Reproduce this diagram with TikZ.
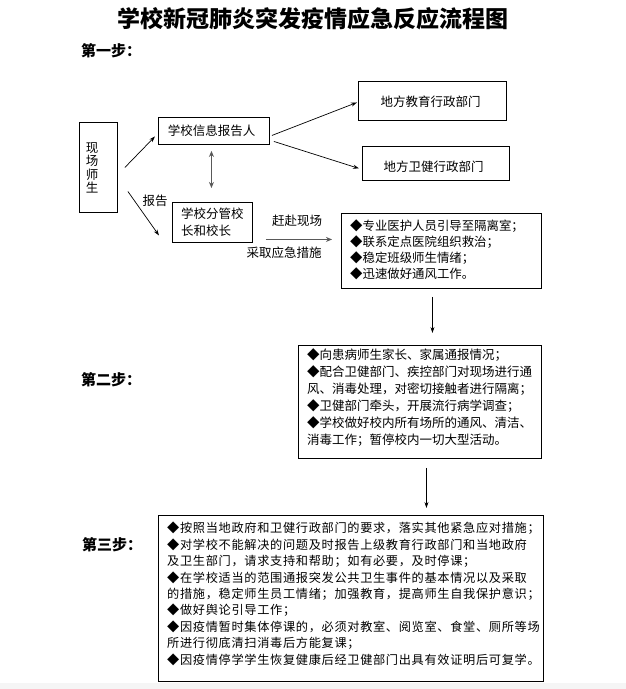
\documentclass[tikz,border=0pt]{standalone}
\usepackage{fontspec}
\setmainfont{Noto Sans CJK SC}
\newfontfamily\sthreefont[LetterSpace=5.5]{Noto Sans CJK SC}
\usetikzlibrary{arrows.meta,calc}
\tikzset{
  box/.style={draw=black, line width=0.9pt, fill=white, inner sep=0pt, anchor=north west},
  lbl/.style={inner sep=0pt, font=\fontsize{12.5}{13}\selectfont},
  arr/.style={draw=black, line width=0.7pt, -{Stealth[length=6pt,width=4pt]}},
  garr/.style={draw=gray!70!black, line width=1.6pt, -{Stealth[length=6pt,width=5pt]}},
  gdarr/.style={draw=gray!70!black, line width=1.6pt, {Stealth[length=6pt,width=5pt]}-{Stealth[length=6pt,width=5pt]}},
  steplbl/.style={inner sep=0pt, anchor=west, font=\fontsize{15}{16}\selectfont\bfseries},
}
\begin{document}
\begin{tikzpicture}[x=1pt,y=-1pt]
\useasboundingbox (0,0) rectangle (626,689);
\fill[white] (0,0) rectangle (626,689);
\fill[gray!8] (0,683) rectangle (626,689);

% title
\node[inner sep=0pt, font=\fontsize{23}{24}\selectfont\bfseries] (title) at (313,19) {学校新冠肺炎突发疫情应急反应流程图};
\node[steplbl] (st1) at (81,51) {第一步：};
\node[steplbl] (st2) at (81,380) {第二步：};
\node[steplbl] (st3) at (82,545) {第三步：};

% step 1 boxes
\node[box, minimum width=38pt, minimum height=90pt] (xc) at (79,122) {};
\node[lbl, align=center, font=\fontsize{12.5}{13.3}\selectfont] (xct) at (92,168) {现\\场\\师\\生};

\node[box, minimum width=111pt, minimum height=27pt] (info) at (158,117) {};
\node[lbl] (infot) at (211.5,130.5) {学校信息报告人};

\node[box, minimum width=80pt, minimum height=40pt] (dept) at (172,202) {};
\node[lbl, anchor=west] (deptt1) at (181,214) {学校分管校};
\node[lbl, anchor=west] (deptt2) at (181,231) {长和校长};

\node[box, minimum width=148pt, minimum height=39pt] (edu) at (358,81) {};
\node[lbl] (edut) at (430.5,102) {地方教育行政部门};

\node[box, minimum width=147pt, minimum height=34pt] (hea) at (362,146) {};
\node[lbl] (heat) at (433.5,167) {地方卫健行政部门};

\node[box, minimum width=200pt, minimum height=75pt] (s1) at (341,213) {};
\foreach \t [count=\i] in {◆专业医护人员引导至隔离室；,◆联系定点医院组织救治；,◆稳定班级师生情绪；,◆迅速做好通风工作。}
  \node[inner sep=0pt, anchor=west, font=\fontsize{12.4}{13}\selectfont] (s1l\i) at (350,{226+16*(\i-1)}) {\t};

% step 2
\node[box, minimum width=243pt, minimum height=113pt] (s2) at (298,345) {};
\foreach \t [count=\i] in {◆向患病师生家长、家属通报情况；,◆配合卫健部门、疾控部门对现场进行通,风、消毒处理，对密切接触者进行隔离；,◆卫健部门牵头，开展流行病学调查；,◆学校做好校内所有场所的通风、清洁、,消毒工作；暂停校内一切大型活动。}
  \node[inner sep=0pt, anchor=west, font=\fontsize{12.5}{13}\selectfont] (s2l\i) at (307,{355+17*(\i-1)}) {\t};

% step 3
\node[box, minimum width=385pt, minimum height=166pt] (s3) at (158,515) {};
\foreach \t [count=\i] in {◆按照当地政府和卫健行政部门的要求，落实其他紧急应对措施；,◆对学校不能解决的问题及时报告上级教育行政部门和当地政府,及卫生部门，请求支持和帮助；如有必要，及时停课；,◆在学校适当的范围通报突发公共卫生事件的基本情况以及采取,的措施，稳定师生员工情绪；加强教育，提高师生自我保护意识；,◆做好舆论引导工作；,◆因疫情暂时集体停课的，必须对教室、阅览室、食堂、厕所等场,所进行彻底清扫消毒后方能复课；,◆因疫情停学学生恢复健康后经卫健部门出具有效证明后可复学。}
  \node[inner sep=0pt, anchor=west, font=\sthreefont\fontsize{12.2}{13}\selectfont] (s3l\i) at (167,{528+16.5*(\i-1)}) {\t};

% connectors
\draw[arr] ($(xc.east)+(7,0)$) -- ($(info.west)+(-3,5.5)$);
\draw[arr] ($(xc.east)+(10,24)$) -- ($(dept.west)+(-13,13)$);
\node[lbl] (bg) at (155,201) {报告};
\draw[gdarr] ($(info.south)+(-2.5,6)$) -- ($(dept.north)+(-1,-14)$);
\draw[arr] ($(info.east)+(2,4.5)$) -- ($(edu.west)+(-1,1.5)$);
\draw[arr] ($(info.east)+(4,10.5)$) -- ($(hea.west)+(-3,5)$);
\draw[garr] ($(dept.east)+(13,17)$) -- ($(s1.west)+(-9,-11.5)$);
\node[lbl] (gf) at (297,221) {赶赴现场};
\node[lbl] (cq) at (284,253) {采取应急措施};
\draw[arr] ($(s1.south)+(-9,8)$) -- ($(s2.north)+(12.5,-12)$);
\draw[arr] ($(s2.south)+(6.5,9)$) -- ($(s3.north)+(75.5,-7)$);
\end{tikzpicture}
\end{document}
